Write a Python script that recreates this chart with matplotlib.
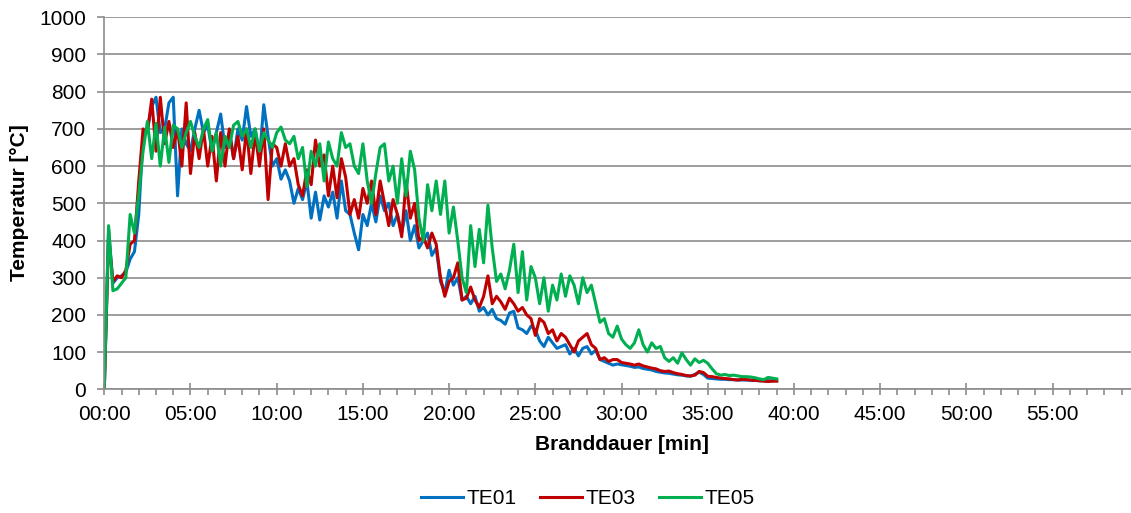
import numpy as np
import matplotlib.pyplot as plt
from matplotlib.ticker import MultipleLocator, FixedLocator, FuncFormatter

plt.rcParams['font.family'] = ['Liberation Sans', 'DejaVu Sans']

# time in minutes, sampled every 15 s
time_min = np.arange(0, 39.01, 0.25)

te01 = [
    0, 430, 285, 300, 305, 315, 350, 370, 470, 680,
    700, 760, 785, 690, 700, 770, 785, 520, 700, 660,
    640, 700, 750, 690, 710, 640, 690, 740, 650, 690,
    620, 700, 670, 760, 680, 700, 620, 765, 680, 600,
    620, 565, 590, 560, 500, 540, 510, 560, 460, 530,
    455, 520, 490, 530, 460, 560, 480, 470, 420, 375,
    470, 440, 500, 450, 520, 480, 500, 440, 470, 420,
    480, 400, 440, 380, 400, 420, 360, 380, 290, 260,
    320, 280, 300, 240, 250, 230, 250, 210, 220, 200,
    215, 190, 185, 175, 205, 210, 165, 160, 150, 170,
    160, 130, 115, 140, 125, 110, 115, 120, 95, 110,
    90, 110, 115, 95, 105, 80, 75, 70, 65, 68,
    66, 64, 62, 59, 60, 56, 54, 52, 48, 46,
    44, 43, 41, 39, 38, 36, 35, 40, 46, 40,
    30, 29, 28, 27, 27, 26, 26, 25, 25, 25,
    24, 24, 23, 23, 23, 23, 23,
]

te03 = [
    0, 410, 290, 305, 300, 320, 390, 400, 560, 700,
    690, 780, 640, 785, 660, 720, 650, 700, 600, 770,
    580, 690, 620, 700, 600, 680, 560, 690, 600, 700,
    620, 680, 590, 700, 580, 690, 600, 700, 510, 660,
    650, 600, 660, 600, 620, 550, 520, 590, 550, 670,
    600, 630, 520, 600, 515, 620, 570, 470, 510, 460,
    540, 500, 560, 470, 560, 500, 440, 510, 470, 410,
    560, 460, 500, 400, 410, 380, 420, 390, 300, 250,
    290, 300, 340, 240, 245, 275, 240, 220, 250, 305,
    230, 250, 235, 215, 245, 230, 210, 220, 200, 190,
    145, 190, 180, 150, 160, 130, 150, 140, 120, 100,
    130, 140, 150, 120, 110, 80, 85, 75, 80, 80,
    72, 70, 68, 65, 68, 63, 60, 57, 55, 50,
    48, 49, 45, 42, 40, 37, 36, 38, 48, 45,
    35, 34, 32, 30, 29, 28, 26, 25, 27, 26,
    25, 24, 23, 22, 21, 22, 22,
]

te05 = [
    0, 440, 265, 270, 285, 300, 470, 420, 525, 640,
    720, 620, 715, 600, 705, 610, 710, 700, 650, 690,
    720, 680, 650, 700, 725, 640, 690, 600, 680, 650,
    710, 720, 680, 700, 650, 700, 640, 690, 670, 650,
    690, 705, 670, 660, 680, 620, 650, 545, 640, 600,
    660, 560, 665, 620, 600, 690, 650, 660, 600, 580,
    660, 560, 500, 580, 650, 660, 560, 600, 500, 620,
    520, 640, 590, 460, 400, 550, 480, 560, 470, 560,
    420, 490, 400, 300, 260, 440, 330, 430, 340, 495,
    380, 290, 310, 270, 320, 390, 260, 370, 240, 330,
    300, 230, 300, 210, 280, 240, 310, 250, 305, 280,
    230, 300, 260, 280, 230, 180, 190, 150, 140, 170,
    135, 120, 110, 125, 160, 120, 100, 125, 110, 115,
    85, 75, 85, 70, 98, 80, 65, 82, 72, 78,
    70, 55, 42, 38, 40, 37, 38, 36, 34, 34,
    33, 31, 28, 26, 32, 30, 28,
]

fs = 15
grey = '#8c8c8c'

fig = plt.figure(figsize=(11.31, 5.13), dpi=100)
ax = fig.add_axes([0.0922, 0.2411, 0.9147, 0.7252])

ax.plot(time_min, te01, color='#0070C0', lw=2.2, label='TE01')
ax.plot(time_min, te03, color='#C00000', lw=2.2, label='TE03')
ax.plot(time_min, te05, color='#00B050', lw=2.2, label='TE05')

ax.set_xlim(0, 60)
ax.set_ylim(0, 1000)
ax.yaxis.set_major_locator(MultipleLocator(100))
ax.xaxis.set_major_locator(FixedLocator(range(0, 56, 5)))
ax.xaxis.set_minor_locator(FixedLocator([m for m in range(60) if m % 5]))
ax.xaxis.set_major_formatter(FuncFormatter(lambda v, p: f"{int(round(v)):02d}:00"))

ax.grid(axis='y', color=grey, lw=1.2)
ax.set_axisbelow(True)
for s in ['top', 'right']:
    ax.spines[s].set_visible(False)
for s in ['left', 'bottom']:
    ax.spines[s].set_color(grey)
    ax.spines[s].set_linewidth(1.2)

ax.tick_params(axis='y', direction='out', length=5, width=1.2, color=grey,
               labelsize=fs, pad=8)
ax.tick_params(axis='x', which='major', direction='inout', length=9, width=1.2,
               color=grey, labelsize=fs, pad=7)
ax.tick_params(axis='x', which='minor', direction='out', length=4, width=1.2,
               color=grey)

fig.text(20 / 1131, 1 - 203 / 513, 'Temperatur [°C]', rotation=90, ha='center',
         va='center', fontsize=fs, fontweight='bold')
fig.text(621.5 / 1131, 1 - 445 / 513, 'Branddauer [min]', ha='center',
         va='center', fontsize=fs, fontweight='bold')

fig.legend(loc='center', bbox_to_anchor=(588 / 1131, 1 - 499 / 513), ncol=3,
           frameon=False, fontsize=fs, handlelength=2.0, handletextpad=0.2,
           columnspacing=1.1)

fig.savefig('out.png', dpi=100)
